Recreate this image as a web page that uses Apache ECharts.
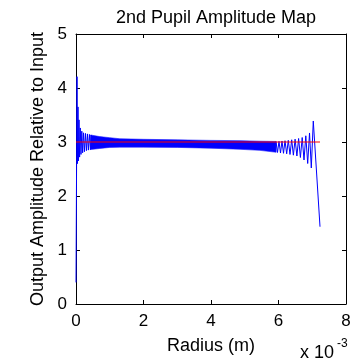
<!DOCTYPE html>
<html>
<head>
<meta charset="utf-8">
<script src="https://cdn.jsdelivr.net/npm/echarts@6/dist/echarts.min.js"></script>
<style>
html,body{margin:0;padding:0;background:#fff;}
#c{width:356px;height:364px;}
</style>
</head>
<body>
<div id="c"></div>
<script>
// Radius in units of 1e-3 m
const xTicks = [0, 2, 4, 6, 8];
const yTicks = [0, 1, 2, 3, 4, 5];

// Blue trace: start of the ripple (individual oscillations visible)
const startX = [0, 0.030, 0.044, 0.059, 0.074, 0.089, 0.107, 0.127, 0.148, 0.172, 0.196, 0.222, 0.249, 0.279, 0.308, 0.338, 0.367, 0.397, 0.427, 0.456];
const startY = [0.40, 4.21, 2.60, 3.65, 2.65, 3.41, 2.72, 3.26, 2.77, 3.20, 2.80, 3.17, 2.82, 3.16, 2.84, 3.15, 2.85, 3.14, 2.86, 3.13];

// Blue trace: dense ripple band envelope
const bandX = [0.43, 0.70, 1.00, 1.30, 2.00, 3.00, 4.00, 4.86, 5.45, 5.93];
const bandUpper = [3.13, 3.10, 3.08, 3.06, 3.05, 3.04, 3.03, 3.025, 3.015, 3.01];
const bandLower = [2.86, 2.88, 2.90, 2.905, 2.905, 2.90, 2.885, 2.865, 2.845, 2.81];

// Blue trace: edge oscillations and fall-off
const tailX = [5.926, 5.970, 6.015, 6.059, 6.104, 6.148, 6.193, 6.243, 6.290, 6.341, 6.391, 6.441, 6.492, 6.545, 6.596, 6.649, 6.702, 6.756, 6.809, 6.865, 6.919, 6.972, 7.031, 7.061, 7.230];
const tailY = [3.009, 2.806, 3.013, 2.796, 3.019, 2.791, 3.024, 2.781, 3.031, 2.769, 3.041, 2.756, 3.052, 2.741, 3.065, 2.713, 3.083, 2.667, 3.115, 2.602, 3.167, 2.519, 3.389, 3.37, 1.431];

// Red reference line
const refX = [0, 7.23];
const refY = [3, 3];

const FONT = 'Liberation Sans, Arial, Helvetica, sans-serif';
const zip = (a, b) => a.map((v, i) => [v, b[i]]);

const chart = echarts.init(document.getElementById('c'), null, {renderer: 'canvas'});

const axisCommon = {
  axisLine: {show: true, onZero: false, lineStyle: {color: '#000', width: 1}},
  axisTick: {show: true, inside: true, length: 4, lineStyle: {color: '#000'}},
  splitLine: {show: false}
};

chart.setOption({
  animation: false,
  backgroundColor: '#fff',
  title: {
    text: '2nd Pupil Amplitude Map',
    left: 211, top: 4, textAlign: 'center',
    textStyle: {fontFamily: FONT, fontSize: 18, fontWeight: 'normal', color: '#000'}
  },
  grid: {left: 76, right: 10, top: 34, bottom: 60, containLabel: false},
  xAxis: [
    Object.assign({
      type: 'value', position: 'bottom', min: xTicks[0], max: xTicks[xTicks.length - 1], interval: 2,
      name: 'Radius (m)', nameLocation: 'middle', nameGap: 33,
      nameTextStyle: {fontFamily: FONT, fontSize: 18, color: '#000'},
      axisLabel: {fontFamily: FONT, fontSize: 17, color: '#000', margin: 9}
    }, axisCommon),
    Object.assign({
      type: 'value', position: 'top', min: xTicks[0], max: xTicks[xTicks.length - 1], interval: 2,
      axisLabel: {show: false}
    }, axisCommon)
  ],
  yAxis: [
    Object.assign({
      type: 'value', position: 'left', min: yTicks[0], max: yTicks[yTicks.length - 1], interval: 1,
      name: 'Output Amplitude Relative to Input', nameLocation: 'middle', nameGap: 27,
      nameTextStyle: {fontFamily: FONT, fontSize: 18, color: '#000'},
      axisLabel: {fontFamily: FONT, fontSize: 17, color: '#000', margin: 9}
    }, axisCommon),
    Object.assign({
      type: 'value', position: 'right', min: yTicks[0], max: yTicks[yTicks.length - 1], interval: 1,
      axisLabel: {show: false}
    }, axisCommon)
  ],
  graphic: [
    {type: 'text', left: 300, top: 344, style: {text: 'x 10', font: '18px ' + FONT, fill: '#000'}},
    {type: 'text', left: 337, top: 338, style: {text: '-3', font: '12px ' + FONT, fill: '#000'}}
  ],
  series: [
    {
      type: 'custom', xAxisIndex: 0, yAxisIndex: 0, clip: true, silent: true,
      data: [[bandX[0], bandUpper[0]]],
      renderItem: function (params, api) {
        const pts = [];
        for (let i = 0; i < bandX.length; i++) pts.push(api.coord([bandX[i], bandUpper[i]]));
        for (let i = bandX.length - 1; i >= 0; i--) pts.push(api.coord([bandX[i], bandLower[i]]));
        return {type: 'polygon', shape: {points: pts}, style: {fill: '#0000ff', stroke: '#1a1aff', lineWidth: 0.6}};
      },
      z: 2
    },
    {
      type: 'line', data: zip(startX, startY), showSymbol: false, symbol: 'none',
      lineStyle: {color: '#0000ff', width: 1}, z: 3
    },
    {
      type: 'line', data: zip(tailX, tailY), showSymbol: false, symbol: 'none',
      lineStyle: {color: '#0000ff', width: 1}, z: 3
    },
    {
      type: 'line', data: zip(refX, refY), showSymbol: false, symbol: 'none',
      lineStyle: {color: '#ff0000', width: 1.2}, z: 4
    }
  ]
});
</script>
</body>
</html>
